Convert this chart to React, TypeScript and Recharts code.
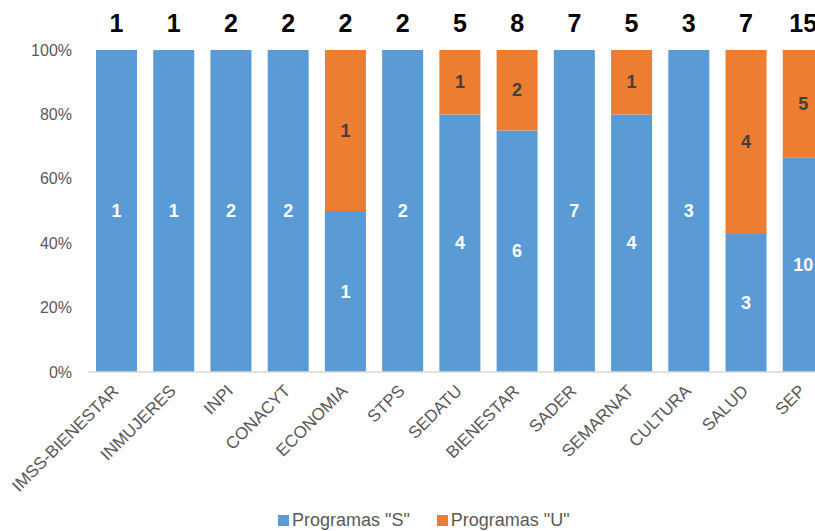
import React from 'react';
import { BarChart, Bar, XAxis, YAxis, LabelList, Legend } from 'recharts';

const categories = ['IMSS-BIENESTAR', 'INMUJERES', 'INPI', 'CONACYT', 'ECONOMIA', 'STPS', 'SEDATU', 'BIENESTAR', 'SADER', 'SEMARNAT', 'CULTURA', 'SALUD', 'SEP'];
const programasS = [1, 1, 2, 2, 1, 2, 4, 6, 7, 4, 3, 3, 10];
const programasU = [0, 0, 0, 0, 1, 0, 1, 2, 0, 1, 0, 4, 5];
const totals = [1, 1, 2, 2, 2, 2, 5, 8, 7, 5, 3, 7, 15];
const yTicks = [0, 0.2, 0.4, 0.6, 0.8, 1];

const BLUE = '#5B9BD5';
const ORANGE = '#ED7D31';
const FONT = '"Liberation Sans", Arial, sans-serif';

const data = categories.map((c, i) => ({ name: c, S: programasS[i], U: programasU[i] }));

// All labels are placed from the geometry of the "S" segment (which is never empty)
const AllLabels = (props: any) => {
  const { x, y, width, height, index } = props;
  const X = Number(x), Y = Number(y), W = Number(width), H = Number(height);
  const s = programasS[index];
  const u = programasU[index];
  const t = totals[index];
  const full = (H * t) / s;
  const top = Y + H - full;
  const cx = X + W / 2;
  return (
    <g>
      <text x={cx} y={Y + H / 2} textAnchor="middle" dominantBaseline="central"
        fill="#fff" fontSize={18} fontWeight="bold" fontFamily={FONT}>{s}</text>
      {u > 0 && (
        <text x={cx} y={(top + Y) / 2} textAnchor="middle" dominantBaseline="central"
          fill="#404040" fontSize={18} fontWeight="bold" fontFamily={FONT}>{u}</text>
      )}
      <text x={cx} y={top - 27} textAnchor="middle" dominantBaseline="central"
        fill="#000" fontSize={25} fontWeight="bold" fontFamily={FONT}>{t}</text>
    </g>
  );
};

const XTick = (props: any) => {
  const { x, y, payload } = props;
  const ax = x + 3;
  const ay = y + 12;
  return (
    <text x={ax} y={ay} transform={`rotate(-45, ${ax}, ${ay})`} textAnchor="end"
      fill="#595959" fontSize={17} fontFamily={FONT}>{payload.value}</text>
  );
};

const LegendContent = () => (
  <div style={{ display: 'flex', alignItems: 'center', fontFamily: FONT, fontSize: 18, color: '#595959', lineHeight: '21px' }}>
    <span style={{ width: 11, height: 11, background: BLUE, display: 'inline-block', marginRight: 3 }} />
    <span style={{ marginRight: 27 }}>Programas "S"</span>
    <span style={{ width: 11, height: 11, background: ORANGE, display: 'inline-block', marginRight: 3 }} />
    <span>Programas "U"</span>
  </div>
);

export default function App() {
  return (
    <div style={{ position: 'absolute', left: 0, top: 0, width: 815, height: 531, overflow: 'hidden', background: '#fff' }}>
      <BarChart width={840} height={531} data={data} stackOffset="expand" margin={{ top: 50, right: 8, left: 0, bottom: 8 }}>
        <XAxis dataKey="name" height={130} interval={0} tick={<XTick />} tickLine={false} axisLine={{ stroke: '#d9d9d9', strokeWidth: 1.5 }} />
        <YAxis width={88} domain={[0, 1]} ticks={yTicks} tickFormatter={(v: number) => `${Math.round(v * 100)}%`}
          axisLine={false} tickLine={false} tickMargin={10} tick={{ fill: '#595959', fontSize: 16, fontFamily: FONT }} />
        <Legend content={<LegendContent />} wrapperStyle={{ left: 278, top: 510, width: 400, height: 21 }} />
        <Bar dataKey="S" stackId="a" fill={BLUE} barSize={41} isAnimationActive={false}>
          <LabelList dataKey="S" content={<AllLabels />} />
        </Bar>
        <Bar dataKey="U" stackId="a" fill={ORANGE} barSize={41} isAnimationActive={false} />
      </BarChart>
    </div>
  );
}
